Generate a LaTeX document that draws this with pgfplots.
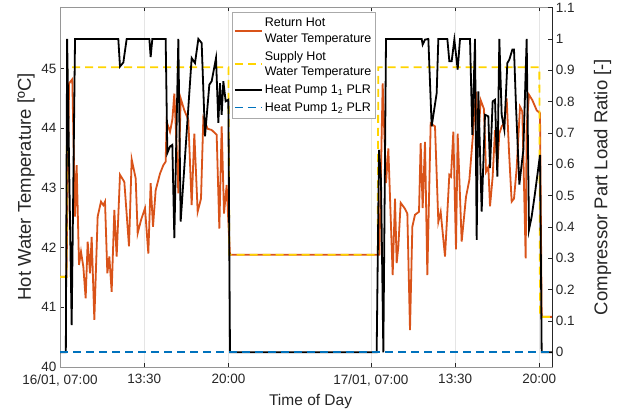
\documentclass[border=0pt]{standalone}
\usepackage{pgfplots}
\pgfplotsset{compat=1.18}
\usepackage{fontspec}
\setmainfont{Liberation Sans}
\definecolor{mOrange}{RGB}{217,83,25}
\definecolor{mYellow}{RGB}{255,212,0}
\definecolor{mBlue}{RGB}{0,114,189}
\definecolor{axgray}{RGB}{150,150,150}
\definecolor{axdark}{RGB}{38,38,38}
\definecolor{leggray}{RGB}{170,170,170}
\tikzset{ydash/.style={mYellow, line width=1.8pt, dash pattern=on 8pt off 5pt},
         bdash/.style={mBlue, line width=1.8pt, dash pattern=on 8pt off 5pt}}
\begin{document}
\begin{tikzpicture}
\useasboundingbox (0,0) rectangle (632pt,410pt);
\begin{axis}[
  at={(60pt,43pt)}, anchor=south west,
  scale only axis, width=492.3pt, height=360pt,
  xmin=7, xmax=45, ymin=40, ymax=46.03,
  xtick={7,13.5,20,31,37.5,44},
  xticklabels={{16/01, 07:00},13:30,20:00,{17/01, 07:00},13:30,20:00},
  ytick={40,41,42,43,44,45},
  ytick pos=left,
  tick align=inside, major tick length=4pt,
  xmajorgrids, grid style={black!10, line width=0.5pt},
  axis line style={axgray, line width=0.6pt},
  tick style={axdark, line width=0.6pt},
  tick label style={font=\fontsize{13.5}{16}\selectfont, text=axdark},
  xticklabel style={yshift=-4pt},
  /pgf/number format/assume math mode=true,
  xlabel={Time of Day},
  xlabel style={font=\fontsize{15.5}{18}\selectfont, text=axdark, at={(axis description cs:0.509,-0.1075)}, anchor=base},
  ylabel={Hot Water Temperature [ºC]},
  ylabel style={font=\fontsize{18.5}{22}\selectfont, text=axdark, at={(axis description cs:-0.069,0.5)}, anchor=center},
]
% Return hot water temperature
\addplot[mOrange, line width=1.8pt] coordinates {
(7,41.51) (7.5,41.51) (7.70,44.75) (7.95,44.82) (8.158,42.52) (8.286,43.38) (8.467,41.71)
(8.621,41.93) (8.801,41.68) (8.981,41.15) (9.136,42.10) (9.316,41.57) (9.444,42.18)
(9.650,40.79) (9.907,42.52) (10.165,42.77) (10.345,42.71) (10.474,42.77) (10.654,41.57)
(10.808,41.85) (10.988,41.26) (11.194,42.63) (11.374,41.85) (11.631,43.22) (11.966,43.10)
(12.326,42.02) (12.532,43.48) (12.841,43.16) (12.995,42.24) (13.252,42.46) (13.561,42.66)
(13.818,41.90) (13.998,43.08) (14.179,42.35) (14.384,42.96) (14.719,43.24) (14.976,43.38)
(15.156,43.44) (15.233,44.11) (15.491,43.94) (15.671,44.14) (15.825,44.58) (16.005,43.69)
(16.134,42.91) (16.314,44.50) (16.597,44.30) (16.906,44.14) (17.163,42.71) (17.369,43.91)
(17.626,42.60) (17.884,42.82) (18.064,44.17) (18.398,43.99) (18.707,43.97) (19.093,43.89)
(19.299,42.32) (19.479,44.03) (19.659,42.57) (19.865,43.05) (19.99,42.46) (20.12,41.88)
(31.65,41.88) (31.907,44.75) (32.164,43.08) (32.344,43.66) (32.679,41.54) (32.859,42.82)
(32.987,41.74) (33.116,42.02) (33.296,42.75) (33.630,42.65) (33.811,42.57) (34.016,40.62)
(34.197,42.35) (34.402,42.55) (34.711,42.60) (34.840,43.75) (34.994,42.66) (35.174,43.77)
(35.354,41.54) (35.612,44.08) (35.946,44.03) (36.203,42.43) (36.384,42.60) (36.718,41.85)
(37.053,43.22) (37.181,43.19) (37.361,43.94) (37.567,41.97) (37.696,43.91) (38.005,42.10)
(38.339,42.85) (38.596,43.13) (38.854,43.83) (39.111,44.61) (39.291,43.83) (39.471,44.47)
(39.728,44.32) (39.883,43.27) (40.063,43.35) (40.192,42.69) (40.397,43.19) (40.578,43.97)
(40.758,43.35) (40.912,43.91) (41.092,44.03) (41.272,44.08) (41.478,44.50) (41.658,43.61)
(41.864,42.77) (42.044,42.82) (42.250,43.33) (42.507,44.36) (42.687,44.28) (42.945,41.82)
(43.022,44.03) (43.202,44.56) (43.459,44.47) (43.794,44.30) (44.051,44.25) (44.180,40.84)
(45,40.84)
};
% Supply hot water temperature
\addplot[ydash] coordinates {
(7,41.51) (7.5,41.51) (7.55,45.02) (20.0,45.02) (20.07,41.88) (31.52,41.88) (31.57,45.02)
(44.0,45.02) (44.05,40.84) (45,40.84)
};
\end{axis}
\begin{axis}[
  at={(60pt,43pt)}, anchor=south west,
  scale only axis, width=492.3pt, height=360pt,
  xmin=7, xmax=45, ymin=-0.047, ymax=1.102,
  axis y line*=right, axis x line=none,
  ytick={0,0.1,0.2,0.3,0.4,0.5,0.6,0.7,0.8,0.9,1,1.1},
  yticklabels={0,0.1,0.2,0.3,0.4,0.5,0.6,0.7,0.8,0.9,1,1.1},
  tick align=inside, major tick length=4pt,
  axis line style={axdark, line width=0.6pt},
  tick style={axdark, line width=0.6pt},
  tick label style={font=\fontsize{13.5}{16}\selectfont, text=axdark},
  ylabel={Compressor Part Load Ratio [-]},
  ylabel style={font=\fontsize{18.5}{22}\selectfont, text=axdark, at={(axis description cs:1.102,0.5)}, anchor=center},
  legend style={at={(axis description cs:0.349,0.986)}, anchor=north west,
    draw=leggray, fill=white,
    font=\fontsize{12.5}{15.5}\selectfont, cells={align=left}, row sep=3.5pt,
    inner xsep=2pt, inner ysep=4pt},
  legend cell align=left,
]
\addlegendimage{legend image code/.code={\draw[mOrange, line width=1.8pt] (0pt,0pt) -- (27pt,0pt);}}
\addlegendentry{Return Hot\\Water Temperature}
\addlegendimage{legend image code/.code={\draw[mYellow, line width=1.8pt] (0pt,0pt) -- (8pt,0pt) (13pt,0pt) -- (21pt,0pt) (26pt,0pt) -- (27pt,0pt);}}
\addlegendentry{Supply Hot\\Water Temperature}
% Heat pump 1_1 PLR
\addplot[black, line width=1.8pt, legend image code/.code={\draw[black, line width=1.8pt] (0pt,0pt) -- (27pt,0pt);}] coordinates {
(7,0) (7.45,0) (7.55,1.0) (7.9,0.087) (8.16,1.0) (11.50,1.0) (11.63,0.912) (11.89,0.925)
(12.146,1.0) (13.896,1.0) (13.998,0.942) (14.127,1.0) (15.156,1.0) (15.285,0.636)
(15.491,0.657) (15.671,0.662) (15.825,0.364) (16.134,1.0) (16.314,0.417) (17.163,0.939)
(17.421,0.923) (17.678,1.0) (17.935,0.987) (18.193,0.689) (18.527,0.854) (18.707,0.865)
(19.042,0.939) (19.222,0.732) (19.351,0.859) (19.479,0.758) (19.608,0.865) (19.788,0.801)
(19.994,0.806) (20.122,0) (31.443,0) (31.624,0.646) (31.778,0.550) (31.958,0) (32.164,1.0)
(34.917,1.0) (34.994,0.982) (35.174,0.998) (35.432,1.0) (35.689,0.721) (36.075,0.827)
(36.203,1.0) (36.898,1.0) (37.053,0.929) (37.233,0.929) (37.439,0.998) (37.696,0.902)
(37.876,1.0) (38.648,1.0) (38.828,0.694) (39.034,1.0) (39.163,0.359) (39.291,0.833)
(39.548,0.449) (39.806,0.758) (40.063,0.753) (40.192,0.588) (40.397,0.801) (40.578,0.806)
(40.758,0.561) (40.912,1.0) (41.092,0.758) (41.298,0.710) (41.530,0.923) (41.684,0.934)
(41.916,0.966) (42.044,0.966) (42.199,0.785) (42.456,0.535) (42.765,0.646) (43.022,1.0)
(43.202,0.391) (43.408,0.433) (43.665,0.508) (44.051,0.630) (44.180,0) (45,0)
};
\addlegendentry{Heat Pump 1\textsubscript{1} PLR}
% Heat pump 1_2 PLR
\addplot[bdash, legend image code/.code={\draw[mBlue, line width=1.8pt] (0pt,0pt) -- (8pt,0pt) (13pt,0pt) -- (21pt,0pt) (26pt,0pt) -- (27pt,0pt);}] coordinates {
(7,0) (45,0)
};
\addlegendentry{Heat Pump 1\textsubscript{2} PLR}
\end{axis}
\end{tikzpicture}
\end{document}
